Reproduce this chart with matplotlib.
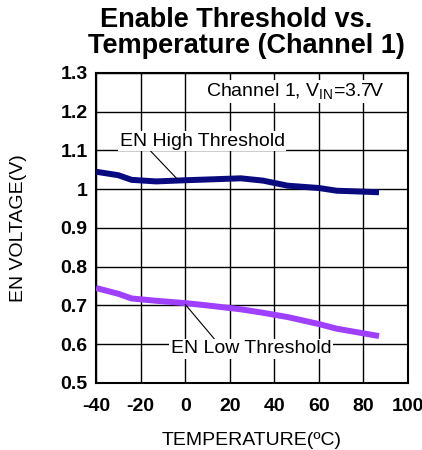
import numpy as np
import matplotlib.pyplot as plt

plt.rcParams['font.family'] = ['Liberation Sans', 'DejaVu Sans']
plt.rcParams['axes.unicode_minus'] = False

# data
temp = [-40, -30, -24, -13, 0, 10, 25, 35, 46, 60, 68, 78, 87]
en_high = [1.045, 1.036, 1.024, 1.020, 1.023, 1.025, 1.028, 1.022, 1.009, 1.003, 0.996, 0.994, 0.992]
en_low = [0.745, 0.730, 0.718, 0.712, 0.706, 0.700, 0.690, 0.681, 0.670, 0.652, 0.640, 0.630, 0.621]

x_ticks = [-40, -20, 0, 20, 40, 60, 80, 100]
y_ticks = [0.5, 0.6, 0.7, 0.8, 0.9, 1.0, 1.1, 1.2, 1.3]
y_labels = ['0.5', '0.6', '0.7', '0.8', '0.9', '1', '1.1', '1.2', '1.3']

fig = plt.figure(figsize=(4.22, 4.5), dpi=100)
ax = fig.add_axes([0.2275, 0.149, 0.7393, 0.689])

ax.plot(temp, en_high, color='#0a0a80', linewidth=4.3, solid_capstyle='butt', zorder=3)
ax.plot(temp, en_low, color='#a040ff', linewidth=4.3, solid_capstyle='butt', zorder=3)

ax.set_xlim(-40, 100)
ax.set_ylim(0.5, 1.3)
ax.set_xticks(x_ticks)
ax.set_yticks(y_ticks)
ax.set_yticklabels(y_labels)
ax.grid(True, color='black', linewidth=1.0)
ax.set_axisbelow(True)
ax.tick_params(length=0, labelsize=14)
ax.tick_params(axis='x', pad=11)
ax.tick_params(axis='y', pad=6)
for lab in ax.get_xticklabels() + ax.get_yticklabels():
    lab.set_fontweight('bold')
for sp in ax.spines.values():
    sp.set_linewidth(1.5)

ax.set_xlabel('TEMPERATURE(ºC)', fontsize=14, labelpad=12)
ax.set_ylabel('EN VOLTAGE(V)', fontsize=14, labelpad=24)

# curve labels with leader lines
ax.annotate('EN High Threshold', xy=(-3.7, 1.027), xytext=(7.6, 1.124),
            fontsize=14, ha='center', va='center',
            bbox=dict(facecolor='white', edgecolor='none', pad=1),
            arrowprops=dict(arrowstyle='-', color='black', lw=0.8,
                            shrinkA=0, shrinkB=0, relpos=(0.18, 0.0)),
            zorder=4)
ax.annotate('EN Low Threshold', xy=(0, 0.703), xytext=(29.5, 0.588),
            fontsize=14, ha='center', va='center',
            bbox=dict(facecolor='white', edgecolor='none', pad=1),
            arrowprops=dict(arrowstyle='-', color='black', lw=0.8,
                            shrinkA=0, shrinkB=0, relpos=(0.28, 1.0)),
            zorder=4)

ax.text(49.3, 1.251, 'Channel 1, V$_\\mathregular{IN}$=3.7V', fontsize=14,
        ha='center', va='center',
        bbox=dict(facecolor='white', edgecolor='none', pad=1), zorder=4)

fig.text(0.237, 0.956, 'Enable Threshold vs.', fontsize=19.5, fontweight='bold',
         ha='left', va='center')
fig.text(0.209, 0.898, 'Temperature (Channel 1)', fontsize=19.5, fontweight='bold',
         ha='left', va='center')

fig.savefig('out.png', dpi=100)
